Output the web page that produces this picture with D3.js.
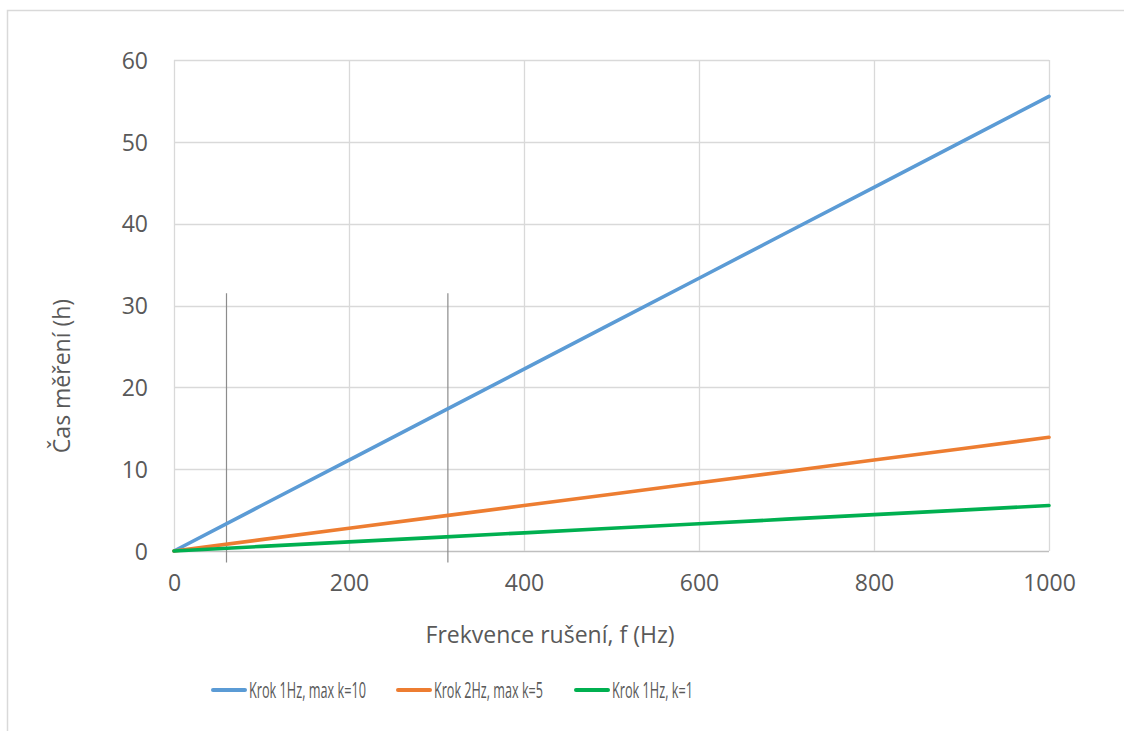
<!DOCTYPE html>
<html><head><meta charset="utf-8">
<script src="https://cdn.jsdelivr.net/npm/d3@7"></script>
<style>
html,body{margin:0;padding:0;background:#fff;}
svg{display:block;font-family:"Open Sans",sans-serif;}
</style></head>
<body>
<svg id="chart" width="1124" height="731"></svg>
<script>
const frequencies = [0,100,200,300,400,500,600,700,800,900,1000];
const seriesNames = ["Krok 1Hz, max k=10","Krok 2Hz, max k=5","Krok 1Hz, k=1"];
const blueValues   = [0,5.56,11.11,16.67,22.22,27.78,33.33,38.89,44.44,50.00,55.56];
const orangeValues = [0,1.39,2.78,4.17,5.56,6.94,8.33,9.72,11.11,12.50,13.89];
const greenValues  = [0,0.56,1.11,1.67,2.22,2.78,3.33,3.89,4.44,5.00,5.56];
const seriesColors = ["#5B9BD5","#ED7D31","#00B050"];
const xTicks = [0,200,400,600,800,1000];
const yTicks = [0,10,20,30,40,50,60];
const markerFreqs = [60,313];
const markerRange = [-1.4,31.5];
const xTitle = "Frekvence rušení, f (Hz)";
const yTitle = "Čas měření (h)";

const svg = d3.select("#chart");
const L=174,R=1049,T=60,B=551;
const x = d3.scaleLinear().domain([0,1000]).range([L,R]);
const y = d3.scaleLinear().domain([0,60]).range([B,T]);

// horizontally squeeze a text element to a target width (anchored at its x position)
function squeeze(sel, target){
  sel.each(function(){
    const w = this.getComputedTextLength();
    const k = Math.min(1, target/w);
    const tx = +this.getAttribute("x")||0;
    d3.select(this).attr("transform",`translate(${tx},0) scale(${k},1) translate(${-tx},0)`);
  });
}

// outer chart border
svg.append("rect").attr("x",7.5).attr("y",10.5).attr("width",1130).attr("height",740)
  .attr("fill","none").attr("stroke","#D9D9D9").attr("stroke-width",1.5);

// gridlines
svg.append("g").selectAll("line").data(yTicks).join("line")
  .attr("x1",L).attr("x2",R).attr("y1",d=>Math.round(y(d))+0.5).attr("y2",d=>Math.round(y(d))+0.5)
  .attr("stroke",d=>d===0?"#BFBFBF":"#D9D9D9").attr("stroke-width",1.3);
svg.append("g").selectAll("line").data(xTicks).join("line")
  .attr("y1",T).attr("y2",B).attr("x1",d=>Math.round(x(d))+0.5).attr("x2",d=>Math.round(x(d))+0.5)
  .attr("stroke","#D9D9D9").attr("stroke-width",1.3);

// tick labels
const yAxis = d3.axisLeft(y).tickValues(yTicks).tickSize(0).tickPadding(26).tickFormat(d3.format("d"));
const gy = svg.append("g").attr("transform",`translate(${L},0)`).call(yAxis);
gy.select(".domain").remove();
gy.selectAll("text").attr("font-size",23).attr("fill","#595959").attr("font-family","Open Sans").attr("dy","0.36em");
const xAxis = d3.axisBottom(x).tickValues(xTicks).tickSize(0).tickPadding(24).tickFormat(d3.format("d"));
const gx = svg.append("g").attr("transform",`translate(0,${B})`).call(xAxis);
gx.select(".domain").remove();
gx.selectAll("text").attr("font-size",23).attr("fill","#595959").attr("font-family","Open Sans").attr("dy","0.71em");

// marker lines
svg.append("g").selectAll("line").data(markerFreqs).join("line")
  .attr("x1",d=>x(d)).attr("x2",d=>x(d)).attr("y1",y(markerRange[1])).attr("y2",y(markerRange[0]))
  .attr("stroke","#8C8C8C").attr("stroke-width",1.2);

// series
const allValues=[blueValues,orangeValues,greenValues];
const line = d3.line().x((d,i)=>x(frequencies[i])).y(d=>y(d));
svg.append("g").selectAll("path").data(allValues).join("path")
  .attr("d",line).attr("fill","none")
  .attr("stroke",(d,i)=>seriesColors[i]).attr("stroke-width",3.6).attr("stroke-linecap","round");

// axis titles
const xt = svg.append("text").attr("x",550).attr("y",643).attr("text-anchor","middle")
  .attr("font-size",23).attr("fill","#595959").text(xTitle);
squeeze(xt,262);
svg.append("g").attr("transform","translate(70,376) rotate(-90)")
  .append("text").attr("x",0).attr("y",0).attr("text-anchor","middle")
  .attr("font-size",23).attr("fill","#595959").text(yTitle).call(squeeze,158);

// legend
const legendX=[213,398,576];
const legendW=[117,109,81];
const lg = svg.append("g").selectAll("g").data(seriesNames).join("g")
  .attr("transform",(d,i)=>`translate(${legendX[i]},690)`);
lg.append("line").attr("x1",0).attr("x2",32).attr("y1",0).attr("y2",0)
  .attr("stroke",(d,i)=>seriesColors[i]).attr("stroke-width",4).attr("stroke-linecap","round");
lg.append("text").attr("x",36).attr("y",8).attr("font-size",22.5).attr("fill","#595959")
  .text(d=>d).each(function(d,i){ squeeze(d3.select(this), legendW[i]); });
</script>
</body></html>
